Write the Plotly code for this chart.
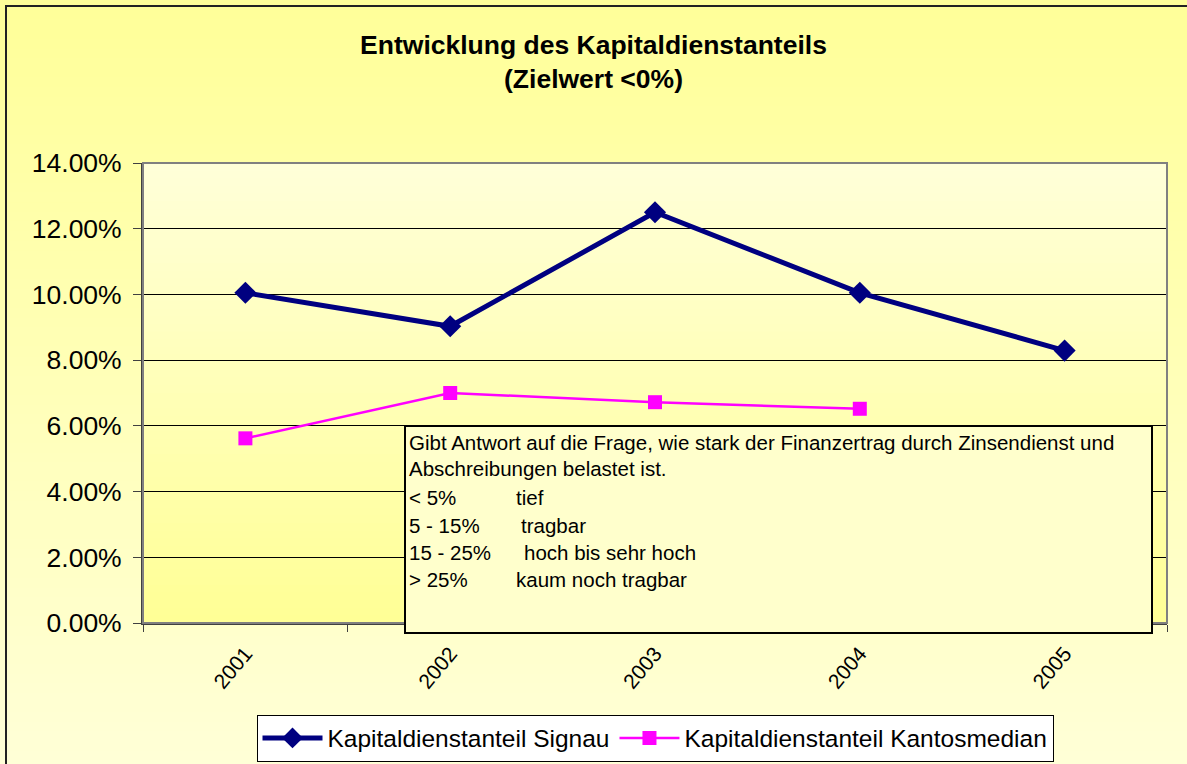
import plotly.graph_objects as go

years = ["2001", "2002", "2003", "2004", "2005"]
signau = [0.1005, 0.0903, 0.1250, 0.1005, 0.0829]
kanton_years = ["2001", "2002", "2003", "2004"]
kanton = [0.0562, 0.0700, 0.0672, 0.0652]
y_ticks = [0, 0.02, 0.04, 0.06, 0.08, 0.10, 0.12, 0.14]

title_lines = ["Entwicklung des Kapitaldienstanteils", "(Zielwert <0%)"]
note_lines = ["Gibt Antwort auf die Frage, wie stark der Finanzertrag durch Zinsendienst und",
              "Abschreibungen belastet ist."]
scale_left = ["< 5%", "5 - 15%", "15 - 25%", "> 25%"]
scale_right = ["tief", "tragbar", "hoch bis sehr hoch", "kaum noch tragbar"]

W, H = 1187, 764
L, R, T, B = 143, 1167, 163, 623
FONT = "Liberation Sans, Arial, sans-serif"


def px(xp):
    return (xp - L) / (R - L)


def py(yp):
    return (B - yp) / (B - T)


def lerp(c1, c2, t):
    return "rgb(%d,%d,%d)" % tuple(round(a + (b - a) * t) for a, b in zip(c1, c2))


shapes = []
# outer background gradient (vertical)
top_c, bot_c = (255, 255, 153), (255, 255, 215)
n = 80
y0, y1 = 0, 770
for i in range(n):
    a = y0 + (y1 - y0) * i / n
    b = y0 + (y1 - y0) * (i + 1) / n + 1
    shapes.append(dict(type="rect", xref="paper", yref="paper", layer="below",
                       x0=px(-5), x1=px(W + 5), y0=py(a), y1=py(b),
                       fillcolor=lerp(top_c, bot_c, i / (n - 1)), line_width=0))
# plot-area gradient
pt_c, pb_c = (255, 255, 216), (255, 255, 150)
n2 = 60
for i in range(n2):
    a = T + (B - T) * i / n2
    b = min(T + (B - T) * (i + 1) / n2 + 1, B)
    shapes.append(dict(type="rect", xref="paper", yref="paper", layer="below",
                       x0=0, x1=1, y0=py(a), y1=py(b),
                       fillcolor=lerp(pt_c, pb_c, i / (n2 - 1)), line_width=0))
# outer border
shapes.append(dict(type="rect", xref="paper", yref="paper", layer="below",
                   x0=px(6), x1=px(W + 20), y0=py(6), y1=py(H + 20),
                   line=dict(color="#222222", width=2), fillcolor="rgba(0,0,0,0)"))
# plot area border (top/right gray)
shapes.append(dict(type="rect", xref="paper", yref="paper", layer="above",
                   x0=0, x1=1, y0=0, y1=1,
                   line=dict(color="#808080", width=2), fillcolor="rgba(0,0,0,0)"))
# note box
shapes.append(dict(type="rect", xref="paper", yref="paper", layer="above",
                   x0=px(405), x1=px(1152), y0=py(426), y1=py(633),
                   line=dict(color="#000000", width=2), fillcolor="#FFFFCC"))

annotations = []
line_y = [442, 469, 497, 525, 552, 579]
for i, t in enumerate(note_lines):
    annotations.append(dict(xref="paper", yref="paper", x=px(407), y=py(line_y[i]),
                            xanchor="left", yanchor="middle", text=t, showarrow=False,
                            font=dict(family=FONT, size=20.5, color="#000000")))
right_x = [516, 521, 524, 516]
for i, (lt, rt) in enumerate(zip(scale_left, scale_right)):
    annotations.append(dict(xref="paper", yref="paper", x=px(407), y=py(line_y[i + 2]),
                            xanchor="left", yanchor="middle", text=lt.replace("<", "&lt;"),
                            showarrow=False, font=dict(family=FONT, size=20.5, color="#000000")))
    annotations.append(dict(xref="paper", yref="paper", x=px(right_x[i] - 2), y=py(line_y[i + 2]),
                            xanchor="left", yanchor="middle", text=rt,
                            showarrow=False, font=dict(family=FONT, size=20.5, color="#000000")))

fig = go.Figure()
fig.add_trace(go.Scatter(
    x=years, y=signau, mode="lines+markers", name="Kapitaldienstanteil Signau",
    line=dict(color="#000080", width=5),
    marker=dict(symbol="diamond", size=17, color="#000080"),
))
fig.add_trace(go.Scatter(
    x=kanton_years, y=kanton, mode="lines+markers", name="Kapitaldienstanteil Kantosmedian",
    line=dict(color="#FF00FF", width=2.5),
    marker=dict(symbol="square", size=14, color="#FF00FF"),
))

fig.update_layout(
    width=W, height=H,
    margin=dict(l=L, r=W - R, t=T, b=H - B, pad=0, autoexpand=False),
    paper_bgcolor="#FFFFCC",
    plot_bgcolor="rgba(0,0,0,0)",
    font=dict(family=FONT, color="#000000"),
    title=dict(text="<br>".join(title_lines).replace("<0", "&lt;0"),
               x=0.5, xref="container", xanchor="center",
               y=1 - 53.5 / H, yref="container", yanchor="middle",
               font=dict(family=FONT, size=26.5, color="#000000", weight="bold")),
    showlegend=True,
    legend=dict(orientation="h", x=0.5, xanchor="center", y=py(738), yanchor="middle",
                bgcolor="#FFFFFF", bordercolor="#000000", borderwidth=1,
                itemwidth=60,
                font=dict(family=FONT, size=24.5, color="#000000"),
                traceorder="normal"),
    shapes=shapes,
    annotations=annotations,
    xaxis=dict(type="category", categoryorder="array", categoryarray=years,
               range=[-0.5, 4.5], showgrid=False, showline=True,
               linecolor="#404040", linewidth=2, automargin=False,
               ticks="outside", tickson="boundaries", ticklen=7, tickcolor="#404040",
               tickangle=-50, ticklabelstandoff=8,
               tickfont=dict(family=FONT, size=21)),
    yaxis=dict(range=[0, 0.14], tickvals=y_ticks, tickformat=".2%",
               showgrid=True, gridcolor="#000000", gridwidth=1, zeroline=False,
               showline=True, linecolor="#404040", linewidth=2, automargin=False,
               ticks="outside", ticklen=8, tickcolor="#404040", ticklabelstandoff=6,
               tickfont=dict(family=FONT, size=26.5)),
)

fig.write_html("out.html", config={"displayModeBar": False},
               post_script="document.body.style.margin='0';")
